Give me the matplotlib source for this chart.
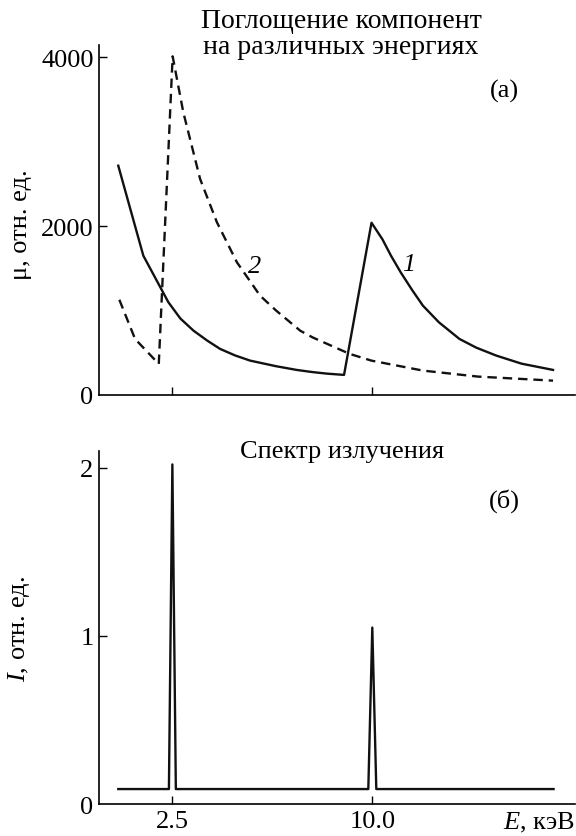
import matplotlib
matplotlib.use("Agg")
import matplotlib.pyplot as plt

plt.rcParams['font.family'] = ['Liberation Serif', 'DejaVu Serif']
plt.rcParams['mathtext.fontset'] = 'custom'
plt.rcParams['mathtext.rm'] = 'Liberation Serif'
plt.rcParams['mathtext.it'] = 'Liberation Serif:italic'

FS = 19

# curve 1 (solid), energy in keV
e1 = [0.47, 1.41, 2.35, 2.8, 3.29, 3.8, 4.29, 4.85, 5.42, 6.39, 7.18, 7.77, 8.3, 8.94,
      9.97, 10.38, 10.7, 11.07, 11.5, 11.9, 12.5, 13.27, 13.9, 14.65, 15.6, 16.78]
mu1 = [2716, 1650, 1098, 905, 762, 645, 545, 468, 406, 340, 295, 270, 252, 237,
       2040, 1844, 1650, 1450, 1240, 1057, 860, 663, 560, 466, 370, 296]

# curve 2 (dashed)
e2 = [0.51, 1.1, 1.99, 2.51, 2.91, 3.23, 3.54, 4.17, 4.92, 5.79, 6.39, 7.3, 7.77, 9.15,
      9.97, 11.9, 13.96, 16.78]
mu2 = [1128, 663, 367, 4012, 3349, 2948, 2559, 2046, 1572, 1176, 1000, 760, 680, 486,
       406, 288, 217, 169]

# emission spectrum
e_spec = [0.47, 2.37, 2.5, 2.63, 9.85, 10.0, 10.15, 16.8]
i_spec = [0.09, 0.09, 2.02, 0.09, 0.09, 1.05, 0.09, 0.09]

xticks = [2.5, 10.0]
xticklabels = ['2.5', '10.0']

fig = plt.figure(figsize=(5.76, 8.37), dpi=100)
ax1 = fig.add_axes([0.172, 0.527, 0.827, 0.418])
ax2 = fig.add_axes([0.172, 0.038, 0.827, 0.422])

for ax in (ax1, ax2):
    for s in ('top', 'right'):
        ax.spines[s].set_visible(False)
    for s in ('left', 'bottom'):
        ax.spines[s].set_linewidth(1.2)
    ax.set_xlim(-0.25, 17.62)
    ax.set_xticks(xticks)
    ax.tick_params(direction='in', length=6, width=1, labelsize=FS, pad=4)

ax1.plot(e1, mu1, color='#111111', lw=1.7)
ax1.plot(e2, mu2, color='#111111', lw=1.7, ls=(0, (4, 2.5)))
ax1.set_ylim(0, 4146)
ax1.set_yticks([0, 2000, 4000])
ax1.set_xticklabels([])
ax1.yaxis.get_major_ticks()[0].tick1line.set_visible(False)
ax1.set_ylabel('μ, отн. ед.', fontsize=FS)
ax1.yaxis.set_label_coords(-0.14, 0.49)
ax1.text(0.85, 0.87, '(a)', transform=ax1.transAxes, fontsize=FS, ha='center', va='center')
ax1.text(0.326, 0.369, '2', transform=ax1.transAxes, fontsize=FS, fontstyle='italic',
         ha='center', va='center')
ax1.text(0.649, 0.375, '1', transform=ax1.transAxes, fontsize=FS, fontstyle='italic',
         ha='center', va='center')

ax2.plot(e_spec, i_spec, color='#111111', lw=1.7)
ax2.set_ylim(0, 2.10)
ax2.set_yticks([0, 1, 2])
ax2.set_xticklabels(xticklabels)
ax2.yaxis.get_major_ticks()[0].tick1line.set_visible(False)
ax2.set_ylabel(r'$I$, отн. ед.', fontsize=FS)
ax2.yaxis.set_label_coords(-0.14, 0.5)
ax2.text(0.85, 0.86, '(б)', transform=ax2.transAxes, fontsize=FS, ha='center', va='center')
ax2.text(1.0, -0.051, r'$E$, кэВ', transform=ax2.transAxes, fontsize=FS, ha='right', va='center')
ax2.text(0.51, 1.0, 'Спектр излучения', transform=ax2.transAxes, fontsize=FS,
         ha='center', va='center')

fig.text(0.592, 0.9585, 'Поглощение компонент\nна различных энергиях', fontsize=20,
         ha='center', va='center', linespacing=1.05)

fig.savefig('out.png', dpi=100)
